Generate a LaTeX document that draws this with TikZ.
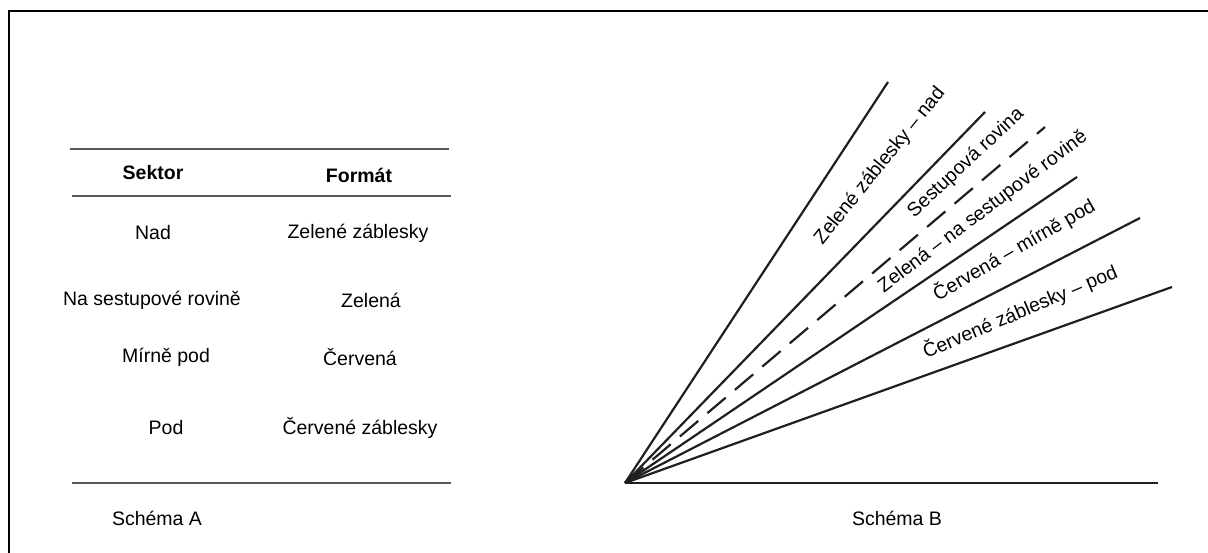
\documentclass[tikz,border=0pt]{standalone}
\usepackage{fontspec}
\setmainfont{Liberation Sans}
\begin{document}
\begin{tikzpicture}[x=1pt,y=-1pt,
  lbl/.style={font=\fontsize{19.5}{23}\selectfont, inner sep=0pt},
  hdr/.style={font=\fontsize{19.5}{23}\selectfont\bfseries, inner sep=0pt},
  fanline/.style={line width=2.2pt, draw=black!88},
  rule/.style={line width=2pt, draw=black!65},
  frame/.style={line width=2.6pt, draw=black}]
\useasboundingbox (0,0) rectangle (1208,553);
% frame (only left and top visible)
\coordinate (fbl) at (9,553);
\coordinate (ftl) at (9,11);
\coordinate (ftr) at (1208,11);
\draw[frame] (fbl) -- (ftl) -- (ftr);

% ---------- Schema A (table) ----------
\coordinate (r1a) at (70,149);  \coordinate (r1b) at (449,149);
\coordinate (r2a) at (72,196);  \coordinate (r2b) at (451,196);
\coordinate (r3a) at (72,483);  \coordinate (r3b) at (451,483);
\draw[rule] (r1a) -- (r1b);
\draw[rule] (r2a) -- (r2b);
\draw[rule] (r3a) -- (r3b);
\node[hdr] (hs) at (153,173) {Sektor};
\node[hdr] (hf) at (359,175) {Formát};
\node[lbl] (s1) at (153,233) {Nad};
\node[lbl] (f1) at (358,233) {Zelené záblesky};
\node[lbl] (s2) at (152,300) {Na sestupové rovině};
\node[lbl] (f2) at (371,300) {Zelená};
\node[lbl] (s3) at (166,357) {Mírně pod};
\node[lbl] (f3) at (360,357) {Červená};
\node[lbl] (s4) at (166,428) {Pod};
\node[lbl] (f4) at (360,428) {Červené záblesky};
\node[lbl] (sa) at (157,518) {Schéma A};

% ---------- Schema B (fan) ----------
\coordinate (o) at (625,483);
\coordinate (e0) at (1158,483);
\coordinate (e1) at (888,82);
\coordinate (e2) at (985,112);
\coordinate (e3) at (1045,127);
\coordinate (e4) at (1077,177);
\coordinate (e5) at (1140,218);
\coordinate (e6) at (1172,287);
\draw[fanline] (o) -- (e0);
\draw[fanline] (o) -- (e1);
\draw[fanline] (o) -- (e2);
\draw[fanline, dash pattern=on 24pt off 12pt] (o) -- (e3);
\draw[fanline] (o) -- (e4);
\draw[fanline] (o) -- (e5);
\draw[fanline] (o) -- (e6);
\node[lbl, rotate=51] (l1) at (880,166) {Zelené záblesky – nad};
\node[lbl, rotate=43] (l2) at (966,163) {Sestupová rovina};
\node[lbl, rotate=37] (l3) at (983,212) {Zelená – na sestupové rovině};
\node[lbl, rotate=30] (l4) at (1014,250) {Červená – mírně pod};
\node[lbl, rotate=23] (l5) at (1020,312) {Červené záblesky – pod};
\node[lbl] (sb) at (897,518) {Schéma B};
\end{tikzpicture}
\end{document}
